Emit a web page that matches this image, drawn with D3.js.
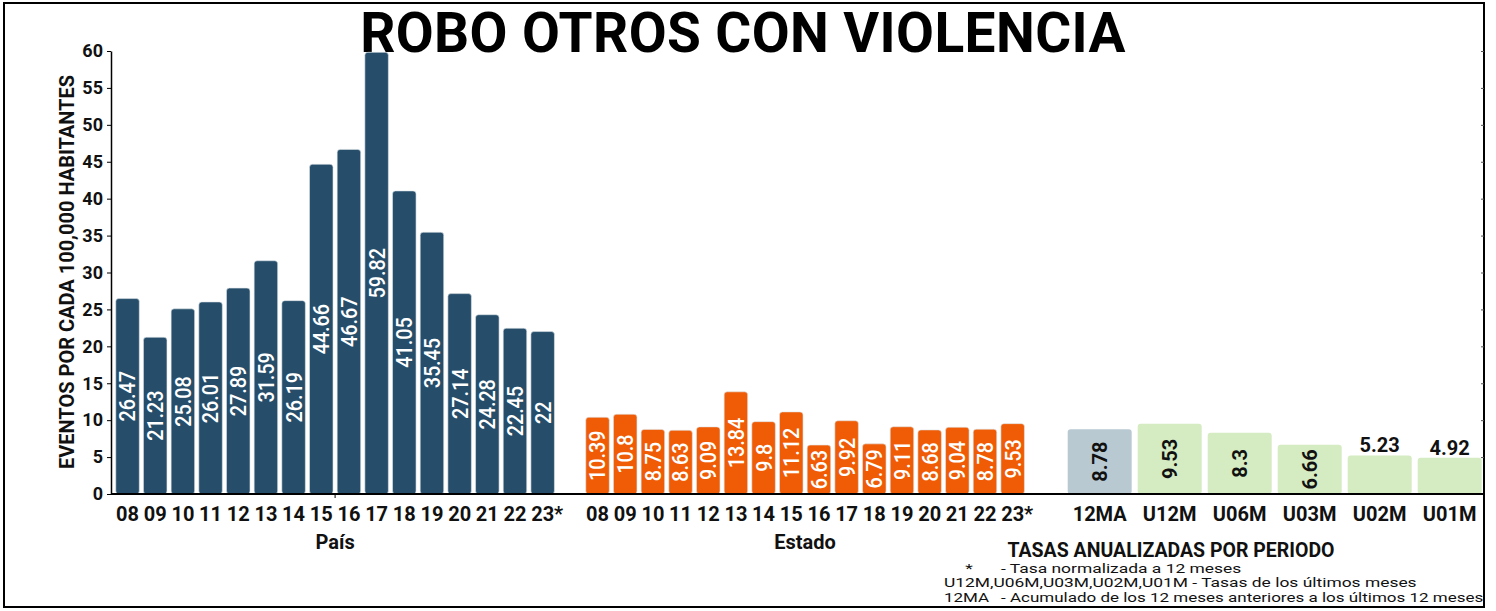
<!DOCTYPE html>
<html>
<head>
<meta charset="utf-8">
<script src="https://cdn.jsdelivr.net/npm/d3@7/dist/d3.min.js"></script>
<style>
  html, body { margin: 0; padding: 0; background: #fff; }
  svg { display: block; font-family: Roboto, "Noto Sans", sans-serif; }
</style>
</head>
<body>
<svg id="chart" width="1496" height="611"></svg>
<script>
const years = ["08","09","10","11","12","13","14","15","16","17","18","19","20","21","22","23*"];
const paisValues = [26.47,21.23,25.08,26.01,27.89,31.59,26.19,44.66,46.67,59.82,41.05,35.45,27.14,24.28,22.45,22];
const estadoValues = [10.39,10.8,8.75,8.63,9.09,13.84,9.8,11.12,6.63,9.92,6.79,9.11,8.68,9.04,8.78,9.53];
const tasaCats = ["12MA","U12M","U06M","U03M","U02M","U01M"];
const tasaValues = [8.78,9.53,8.3,6.66,5.23,4.92];
const yTicks = [0,5,10,15,20,25,30,35,40,45,50,55,60];
const groupLabels = ["País","Estado"];
const title = "ROBO OTROS CON VIOLENCIA";
const yTitle = "EVENTOS POR CADA 100,000 HABITANTES";
const legendTitle = "TASAS ANUALIZADAS POR PERIODO";
const legendRows = [
  ["*", "- Tasa normalizada a 12 meses"],
  ["U12M,U06M,U03M,U02M,U01M - Tasas de los últimos meses", ""],
  ["12MA", "- Acumulado de los 12 meses anteriores a los últimos 12 meses"]
];

const svg = d3.select("#chart");
const y = d3.scaleLinear().domain([0,60]).range([494,51]);

const xPais = d3.scaleBand().domain(years).range([113.7,556.5]).paddingInner(0.15).paddingOuter(0.075);
const xEstado = d3.scaleBand().domain(years).range([583.7,1026.5]).paddingInner(0.15).paddingOuter(0.075);
const xTasa = d3.scaleBand().domain(tasaCats).range([1064.7,1484.7]).paddingInner(0.086).paddingOuter(0.043);

// frame
svg.append("rect").attr("x",4).attr("y",3).attr("width",1480).attr("height",604)
  .attr("fill","none").attr("stroke","#000").attr("stroke-width",2);

// title
svg.append("text").attr("x",743).attr("y",52).attr("text-anchor","middle")
  .attr("font-size",55).attr("letter-spacing",0.4).attr("font-weight",700).attr("fill","#000").text(title);

// bars
function drawGroup(scale, cats, vals, color, cls) {
  const g = svg.append("g").attr("class",cls);
  g.selectAll("rect").data(vals).join("rect")
    .attr("x",(d,i)=>scale(cats[i]))
    .attr("y",d=>y(d))
    .attr("width",scale.bandwidth())
    .attr("height",d=>y(0)-y(d))
    .attr("rx",3)
    .attr("fill",color)
    .attr("stroke","#dfe6ea").attr("stroke-width",0.6);
  g.selectAll("text").data(vals).join("text")
    .attr("transform",(d,i)=>`translate(${scale(cats[i])+scale.bandwidth()/2},${(y(d)+y(0))/2}) rotate(-90) scale(0.9,1)`)
    .attr("text-anchor","middle")
    .attr("dy","0.36em")
    .attr("font-size",22).attr("font-weight",500).attr("fill","#fff")
    .text(d=>d);
}
drawGroup(xPais, years, paisValues, "#264e6b", "pais");
drawGroup(xEstado, years, estadoValues, "#f05c05", "estado");

// tasas
const gt = svg.append("g");
gt.selectAll("rect").data(tasaValues).join("rect")
  .attr("x",(d,i)=>xTasa(tasaCats[i]))
  .attr("y",d=>y(d))
  .attr("width",xTasa.bandwidth())
  .attr("height",d=>y(0)-y(d))
  .attr("rx",3)
  .attr("fill",(d,i)=>i===0?"#b9c9d2":"#d5ebc2");
gt.selectAll("text").data(tasaValues).join("text")
  .each(function(d,i){
    const cx = xTasa(tasaCats[i]) + xTasa.bandwidth()/2;
    const t = d3.select(this);
    if (y(0)-y(d) > 45) {
      t.attr("transform",`translate(${cx},${(y(d)+y(0))/2}) rotate(-90)`).attr("dy","0.36em");
    } else {
      t.attr("x",cx).attr("y",y(d)-3);
    }
  })
  .attr("text-anchor","middle").attr("font-size",20).attr("font-weight",700).attr("fill","#111")
  .text(d=>d);

// left axis
const yAxis = d3.axisLeft(y).tickValues(yTicks).tickSize(4).tickSizeOuter(0);
const ga = svg.append("g").attr("transform","translate(111,0)").call(yAxis);
ga.select(".domain").attr("stroke","#000").attr("stroke-width",1.5);
ga.selectAll("text").attr("font-size",18).attr("font-weight",700).attr("fill","#111").attr("font-family","Roboto").attr("dx","-1");

// right axis (ticks only)
const yAxisR = d3.axisLeft(y).tickValues(yTicks).tickSize(3).tickSizeOuter(0).tickFormat("");
const gr = svg.append("g").attr("transform","translate(1484,0)").call(yAxisR);
gr.select(".domain").remove();
gr.selectAll("line").attr("stroke","#555");

// baseline
svg.append("line").attr("x1",111).attr("x2",1484).attr("y1",y(0)).attr("y2",y(0))
  .attr("stroke","#000").attr("stroke-width",2.2);
svg.append("line").attr("x1",(113.7+556.5)/2).attr("x2",(113.7+556.5)/2).attr("y1",y(0)).attr("y2",y(0)+4)
  .attr("stroke","#000").attr("stroke-width",1);

// x tick labels (a trailing "*" hangs to the right of the centred label)
function xLabels(scale, cats) {
  svg.append("g").selectAll("text").data(cats).join("text")
    .attr("y",521)
    .attr("font-size",20).attr("font-weight",700).attr("fill","#111")
    .text(d=>d.replace("*",""))
    .each(function(d){
      const w = this.getComputedTextLength();
      d3.select(this).attr("x", scale(d)+scale.bandwidth()/2 - w/2).attr("text-anchor","start").text(d);
    });
}
xLabels(xPais, years);
xLabels(xEstado, years);
xLabels(xTasa, tasaCats);

// group labels
svg.append("text").attr("x",(113.7+556.5)/2).attr("y",549).attr("text-anchor","middle")
  .attr("font-size",20).attr("font-weight",700).attr("fill","#111").text(groupLabels[0]);
svg.append("text").attr("x",(583.7+1026.5)/2).attr("y",549).attr("text-anchor","middle")
  .attr("font-size",20).attr("font-weight",700).attr("fill","#111").text(groupLabels[1]);

// y title
svg.append("text").attr("transform","translate(74,272) rotate(-90)").attr("text-anchor","middle")
  .attr("font-size",20).attr("font-weight",700).attr("fill","#111").text(yTitle);

// legend
const lg = svg.append("g");
lg.append("text").attr("x",1171).attr("y",557).attr("text-anchor","middle")
  .attr("font-size",19.5).attr("font-weight",700).attr("fill","#111").text(legendTitle);
const rowY = [573,587,602];
const rowScale = [1.29,1.29,1.26];
legendRows.forEach((r,i)=>{
  const x0 = i===0 ? 969 : 944;
  lg.append("text").attr("transform",`translate(${x0},${rowY[i]}) scale(${rowScale[i]},1)`)
    .attr("text-anchor", i===0 ? "middle" : "start")
    .attr("font-size",13.5).attr("fill","#111").text(r[0]);
  if (r[1]) lg.append("text").attr("transform",`translate(1001,${rowY[i]}) scale(${rowScale[i]},1)`)
    .attr("font-size",13.5).attr("fill","#111").text(r[1]);
});
</script>
</body>
</html>
